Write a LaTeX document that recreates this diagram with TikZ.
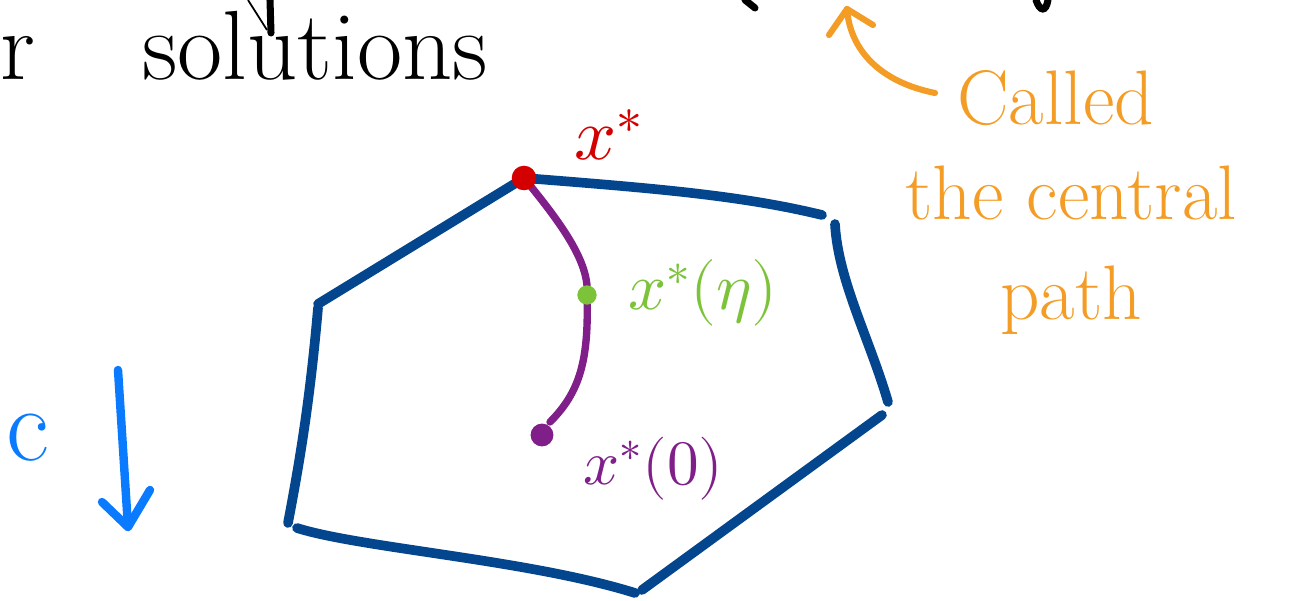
\documentclass[tikz,border=0pt]{standalone}
\usepackage{fontspec}
\usepackage{unicode-math}
\usepackage{tikz}
\usepackage[dvipsnames]{xcolor}

\definecolor{polyblue}{RGB}{4,70,142}
\definecolor{optred}{RGB}{212,0,0}
\definecolor{pathpurple}{RGB}{128,30,138}
\definecolor{etagreen}{RGB}{125,195,58}
\definecolor{noteorange}{RGB}{244,157,38}
\definecolor{costblue}{RGB}{10,122,255}

\begin{document}
\begin{tikzpicture}[x=0.02cm, y=-0.02cm]
\tikzstyle{side}=[draw=polyblue, line width=5.5pt, line cap=round]
\tikzstyle{cpath}=[draw=pathpurple, line width=4.2pt, line cap=round]
\tikzstyle{note}=[draw=noteorange, line width=3.5pt, line cap=round, line join=round]
\tikzstyle{ink}=[draw=black, line width=4pt, line cap=round]
\tikzstyle{blob}=[circle, inner sep=0pt, outer sep=0pt]
\tikzstyle{lbl}=[inner sep=0pt, anchor=base west]
\useasboundingbox (0,0) rectangle (1303,601);

% bits of the line above and the word below it
\draw[ink] (270,0) -- (271,33);
\draw[draw=black, line width=1pt] (248,0) -- (267,30);
\draw[ink] (745,0) -- (755,8);
\draw[ink] (1036,0) .. controls (1040,12) and (1046,12) .. (1048,0);
\node[lbl] (rtail) at (0,80) {\fontsize{56}{60}\selectfont r};
\node[lbl] (soln) at (142,80) {\fontsize{56}{60}\selectfont solutions};

% the polygon
\coordinate (v1) at (524,178);
\coordinate (v2) at (822,215);
\coordinate (v3) at (835,224);
\coordinate (v4) at (888,402);
\coordinate (v5) at (882,415);
\coordinate (v6) at (642,590);
\coordinate (v7) at (635,593);
\coordinate (v8) at (297,528);
\coordinate (v9) at (288,523);
\coordinate (v10) at (318,308);
\coordinate (v11) at (318,304);
\draw[side] (v1) .. controls (650,188) and (740,195) .. (v2);
\draw[side] (v3) .. controls (838,280) and (870,340) .. (v4);
\draw[side] (v5) -- (v6);
\draw[side] (v7) .. controls (530,560) and (360,548) .. (v8);
\draw[side] (v9) .. controls (300,460) and (310,400) .. (v10);
\draw[side] (v11) -- (v1);

% central path
\coordinate (peta) at (587,295);
\coordinate (pend) at (550,422);
\draw[cpath] (v1) .. controls (560,222) and (590,262) .. (peta);
\draw[cpath] (peta) .. controls (589,360) and (580,392) .. (pend);

\node[blob, fill=optred, minimum width=13pt, minimum height=14pt] (xopt) at (v1) {};
\node[blob, fill=etagreen, minimum width=11pt, minimum height=9pt] (xeta) at (peta) {};
\node[blob, fill=pathpurple, minimum size=13pt] (xzero) at (542,435) {};

\node[lbl, text=optred] (xoptlbl) at (574,160) {\fontsize{42}{44}\selectfont $x^*$};
\node[lbl, text=etagreen] (xetalbl) at (628,310) {\fontsize{38}{40}\selectfont $x^*(\eta)$};
\node[lbl, text=pathpurple] (xzerolbl) at (583,484) {\fontsize{36}{38}\selectfont $x^*(0)$};

% cost direction
\node[lbl, text=costblue] (cvec) at (6,460) {\fontsize{60}{62}\selectfont c};
\coordinate (ctop) at (118,370);
\coordinate (ctip) at (128,527);
\draw[draw=costblue, line width=4.8pt, line cap=round, line join=round] (ctop) -- (ctip);
\draw[draw=costblue, line width=4.8pt, line cap=round, line join=round] (102,502) -- (ctip) -- (150,490);

% orange remark
\node[lbl, text=noteorange] (callA) at (957,125) {\fontsize{44}{46}\selectfont Called};
\node[lbl, text=noteorange] (callB) at (905,220) {\fontsize{44}{46}\selectfont the central};
\node[lbl, text=noteorange] (callC) at (1000,320) {\fontsize{44}{46}\selectfont path};
\coordinate (atail) at (935,93);
\coordinate (atip) at (847,9);
\draw[note] (atail) .. controls (880,82) and (850,50) .. (atip);
\draw[note] (829,35) -- (atip) -- (873,25);
\end{tikzpicture}
\end{document}
